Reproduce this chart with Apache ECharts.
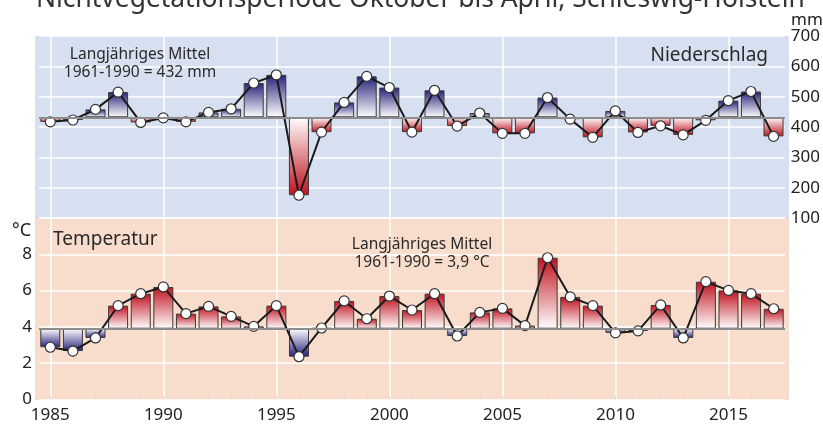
<!DOCTYPE html>
<html><head><meta charset="utf-8">
<script src="https://cdn.jsdelivr.net/npm/echarts@6/dist/echarts.min.js"></script>
<style>html,body{margin:0;padding:0;background:#fff}#c{width:823px;height:426px}</style>
</head><body><div id="c"></div>
<script>
const years = ['1985','1986','1987','1988','1989','1990','1991','1992','1993','1994','1995','1996','1997','1998','1999','2000','2001','2002','2003','2004','2005','2006','2007','2008','2009','2010','2011','2012','2013','2014','2015','2016','2017'];
const precipitation = [417,423,458,515,415,430,417,448,460,545,572,175,383,481,567,530,383,521,403,446,379,379,497,426,366,453,382,404,374,422,487,517,369];
const temperature = [2.88,2.67,3.39,5.17,5.83,6.2,4.73,5.13,4.58,4.03,5.17,2.36,3.94,5.43,4.45,5.7,4.93,5.83,3.5,4.8,5.02,4.07,7.81,5.65,5.17,3.67,3.78,5.21,3.39,6.49,6.01,5.83,5.0];
const precipMean = 432;
const tempMean = 3.9;
const precipRange = [100, 700];
const tempRange = [0, 10];
const precipStep = 100;
const tempStep = 2;

const FONT = '"Noto Sans", "Open Sans", sans-serif';
const NAVY = '#27217a', RED = '#c0111e';
function grad(top, bottom) {
  return new echarts.graphic.LinearGradient(0, 0, 0, 1, [{offset: 0, color: top}, {offset: 1, color: bottom}]);
}
// precipitation: above mean = blue, below = red
const precipBars = precipitation.map(v => ({
  value: v - precipMean,
  itemStyle: {color: v >= precipMean ? grad(NAVY, '#ffffff') : grad('#ffffff', RED)}
}));
// temperature: above mean = red, below = blue
const tempBars = temperature.map(v => ({
  value: +(v - tempMean).toFixed(3),
  itemStyle: {color: v >= tempMean ? grad(RED, '#ffffff') : grad('#ffffff', NAVY)}
}));
const every5 = (i, v) => Number(v) % 5 === 0;

const chart = echarts.init(document.getElementById('c'), null, {renderer: 'canvas'});
chart.setOption({
  animation: false,
  textStyle: {fontFamily: FONT},
  graphic: [
    {type: 'rect', z: -10, shape: {x: 35, y: 36, width: 754, height: 182}, style: {fill: '#d7e0f0'}},
    {type: 'rect', z: -10, shape: {x: 35, y: 218, width: 754, height: 182}, style: {fill: '#f9ddcc'}},
    {type: 'text', z: 10, style: {x: 36, y: -1, text: 'Nichtvegetationsperiode Oktober bis April, Schleswig-Holstein', font: '26.4px ' + FONT, fill: '#333', verticalAlign: 'middle'}},
    {type: 'text', z: 10, style: {x: 140, y: 64, text: 'Langjähriges Mittel\n1961-1990 = ' + precipMean + ' mm', font: '15.5px ' + FONT, lineHeight: 18, fill: '#2a2a2a', align: 'center', verticalAlign: 'middle'}},
    {type: 'text', z: 10, style: {x: 768, y: 56, text: 'Niederschlag', font: '19px ' + FONT, fill: '#2a2a2a', align: 'right', verticalAlign: 'middle'}},
    {type: 'text', z: 10, style: {x: 53, y: 240, text: 'Temperatur', font: '19px ' + FONT, fill: '#2a2a2a', align: 'left', verticalAlign: 'middle'}},
    {type: 'text', z: 10, style: {x: 422, y: 254, text: 'Langjähriges Mittel\n1961-1990 = ' + String(tempMean).replace('.', ',') + ' °C', font: '15.5px ' + FONT, lineHeight: 18, fill: '#2a2a2a', align: 'center', verticalAlign: 'middle'}},
    {type: 'text', z: 10, style: {x: 791, y: 20, text: 'mm', font: '17px ' + FONT, fill: '#222', align: 'left', verticalAlign: 'middle'}},
    {type: 'text', z: 10, style: {x: 12, y: 231, text: '°C', font: '18px ' + FONT, fill: '#222', align: 'left', verticalAlign: 'middle'}}
  ],
  grid: [
    {left: 39, right: 38, top: 36, height: 182},
    {left: 39, right: 38, top: 218, height: 181.5}
  ],
  xAxis: [
    {type: 'category', gridIndex: 0, data: years, boundaryGap: true,
     axisLine: {show: false}, axisTick: {show: false}, axisLabel: {show: false},
     splitLine: {show: true, interval: every5, alignWithLabel: true, lineStyle: {color: '#ffffff', width: 1.5}}},
    {type: 'category', gridIndex: 1, data: years, boundaryGap: true,
     axisLine: {show: false},
     axisTick: {show: true, inside: true, length: 4, interval: 0, alignWithLabel: true, lineStyle: {color: '#dcdcdc', width: 1}},
     axisLabel: {show: true, interval: every5, fontSize: 17, color: '#222', margin: 7, fontFamily: FONT},
     splitLine: {show: true, interval: every5, alignWithLabel: true, lineStyle: {color: '#ffffff', width: 1.5}}}
  ],
  yAxis: [
    {type: 'value', gridIndex: 0, position: 'right', min: precipRange[0], max: precipRange[1], interval: precipStep,
     axisLine: {show: false}, axisTick: {show: false},
     axisLabel: {fontSize: 17, color: '#222', margin: 6, fontFamily: FONT},
     splitLine: {lineStyle: {color: '#ffffff', width: 1.5}}},
    {type: 'value', gridIndex: 0, show: false, min: precipRange[0] - precipMean, max: precipRange[1] - precipMean, splitLine: {show: false}},
    {type: 'value', gridIndex: 1, position: 'left', min: tempRange[0], max: tempRange[1], interval: tempStep,
     axisLine: {show: false}, axisTick: {show: false},
     axisLabel: {fontSize: 17, color: '#222', margin: 7, fontFamily: FONT, formatter: v => v >= tempRange[1] ? '' : String(v)},
     splitLine: {lineStyle: {color: '#ffffff', width: 1.5}}},
    {type: 'value', gridIndex: 1, show: false, min: tempRange[0] - tempMean, max: tempRange[1] - tempMean, splitLine: {show: false}}
  ],
  series: [
    {type: 'bar', xAxisIndex: 0, yAxisIndex: 1, data: precipBars, barWidth: 20,
     itemStyle: {borderColor: '#3a3a3a', borderWidth: 1},
     markLine: {silent: true, symbol: 'none', label: {show: false}, lineStyle: {color: '#8c8c8c', width: 2, type: 'solid'}, data: [{yAxis: 0}]}},
    {type: 'line', xAxisIndex: 0, yAxisIndex: 0, data: precipitation,
     symbol: 'circle', symbolSize: 10, showAllSymbol: true,
     lineStyle: {color: '#1a1a1a', width: 2},
     itemStyle: {color: '#ffffff', borderColor: '#333', borderWidth: 1.2}},
    {type: 'bar', xAxisIndex: 1, yAxisIndex: 3, data: tempBars, barWidth: 20,
     itemStyle: {borderColor: '#3a3a3a', borderWidth: 1},
     markLine: {silent: true, symbol: 'none', label: {show: false}, lineStyle: {color: '#8c8c8c', width: 2, type: 'solid'}, data: [{yAxis: 0}]}},
    {type: 'line', xAxisIndex: 1, yAxisIndex: 2, data: temperature,
     symbol: 'circle', symbolSize: 10, showAllSymbol: true,
     lineStyle: {color: '#1a1a1a', width: 2},
     itemStyle: {color: '#ffffff', borderColor: '#333', borderWidth: 1.2}}
  ]
});
</script></body></html>
